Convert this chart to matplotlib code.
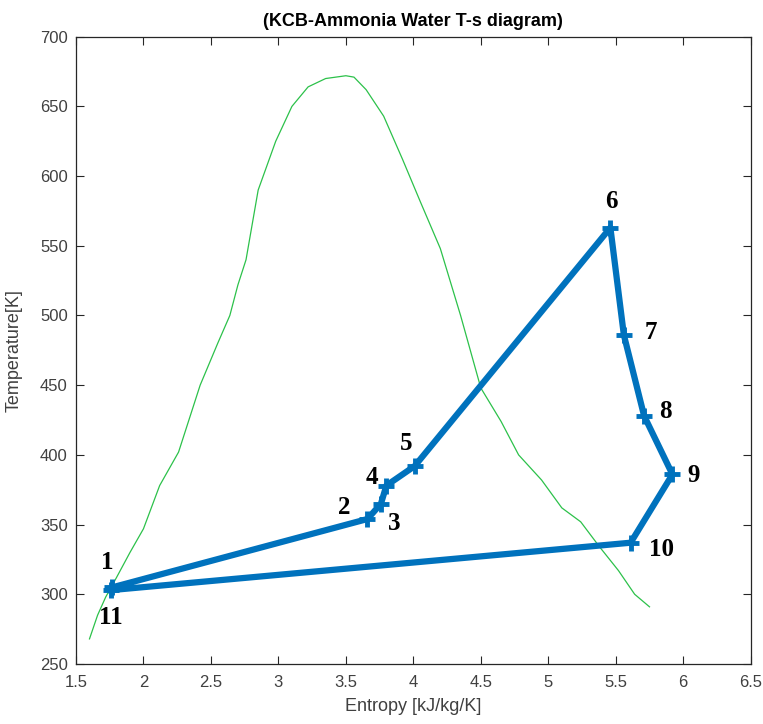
import numpy as np
import matplotlib
matplotlib.use("Agg")
import matplotlib.pyplot as plt

# cycle state points (entropy kJ/kg/K, temperature K)
state_ids = ["1", "2", "3", "4", "5", "6", "7", "8", "9", "10", "11"]
s_cycle = [1.77, 3.66, 3.76, 3.80, 4.01, 5.46, 5.56, 5.71, 5.92, 5.61, 1.76]
T_cycle = [305, 354, 365, 378, 392, 563, 486, 428, 386, 337, 303]

# where each state label sits (data coords)
label_s = [1.73, 3.49, 3.86, 3.69, 3.95, 5.47, 5.76, 5.87, 6.08, 5.84, 1.76]
label_T = [323, 362, 351, 384, 408, 582, 488, 431, 385, 332, 283]

# saturation dome of ammonia-water mixture
s_dome = [1.60, 1.66, 1.72, 1.80, 1.90, 2.00, 2.12, 2.26, 2.42, 2.55, 2.64, 2.70, 2.76,
          2.85, 2.98, 3.10, 3.22, 3.35, 3.50, 3.56, 3.65, 3.78, 3.92, 4.05, 4.20,
          4.35, 4.50, 4.65, 4.78, 4.95, 5.10, 5.24, 5.38, 5.52, 5.64, 5.75]
T_dome = [268, 285, 298, 312, 330, 347, 378, 402, 450, 480, 500, 522, 540,
          590, 625, 650, 664, 670, 672, 671, 662, 643, 612, 582, 548,
          500, 448, 424, 400, 382, 362, 352, 334, 317, 300, 291]

fig = plt.figure(figsize=(7.63, 7.24), dpi=100)
ax = fig.add_axes([0.0996, 0.0829, 0.8843, 0.8664])

ax.plot(s_dome, T_dome, color="#2cc14a", linewidth=0.9)
ax.plot(s_cycle, T_cycle, color="#0072BD", linewidth=4.5, marker="+",
        markersize=11, markeredgewidth=3.5)

for name, x, y in zip(state_ids, label_s, label_T):
    ax.text(x, y, name, fontsize=18, fontweight="bold", family="Liberation Serif",
            ha="center", va="center", color="black")

ax.set_xlim(1.5, 6.5)
ax.set_ylim(250, 700)
ax.set_xticks(np.arange(1.5, 6.51, 0.5))
ax.set_xticklabels(["1.5", "2", "2.5", "3", "3.5", "4", "4.5", "5", "5.5", "6", "6.5"])
ax.set_yticks(np.arange(250, 701, 50))

ax.tick_params(direction="in", top=True, right=True, length=6, width=0.8,
               labelsize=12, colors="#262626", labelcolor="#404040")
ax.tick_params(axis="x", pad=8)
ax.tick_params(axis="y", pad=6)
for lbl in ax.get_xticklabels() + ax.get_yticklabels():
    lbl.set_family("Liberation Sans")
for sp in ax.spines.values():
    sp.set_color("#262626")
    sp.set_linewidth(0.9)

ax.set_xlabel("Entropy [kJ/kg/K]", fontsize=13, family="Liberation Sans",
              color="#404040", labelpad=6)
ax.set_ylabel("Temperature[K]", fontsize=13, family="Liberation Sans",
              color="#404040", labelpad=12)
ax.set_title("(KCB-Ammonia Water T-s diagram)", fontsize=13, fontweight="bold",
             family="Liberation Sans", pad=8)

fig.savefig("out.png", dpi=100)
